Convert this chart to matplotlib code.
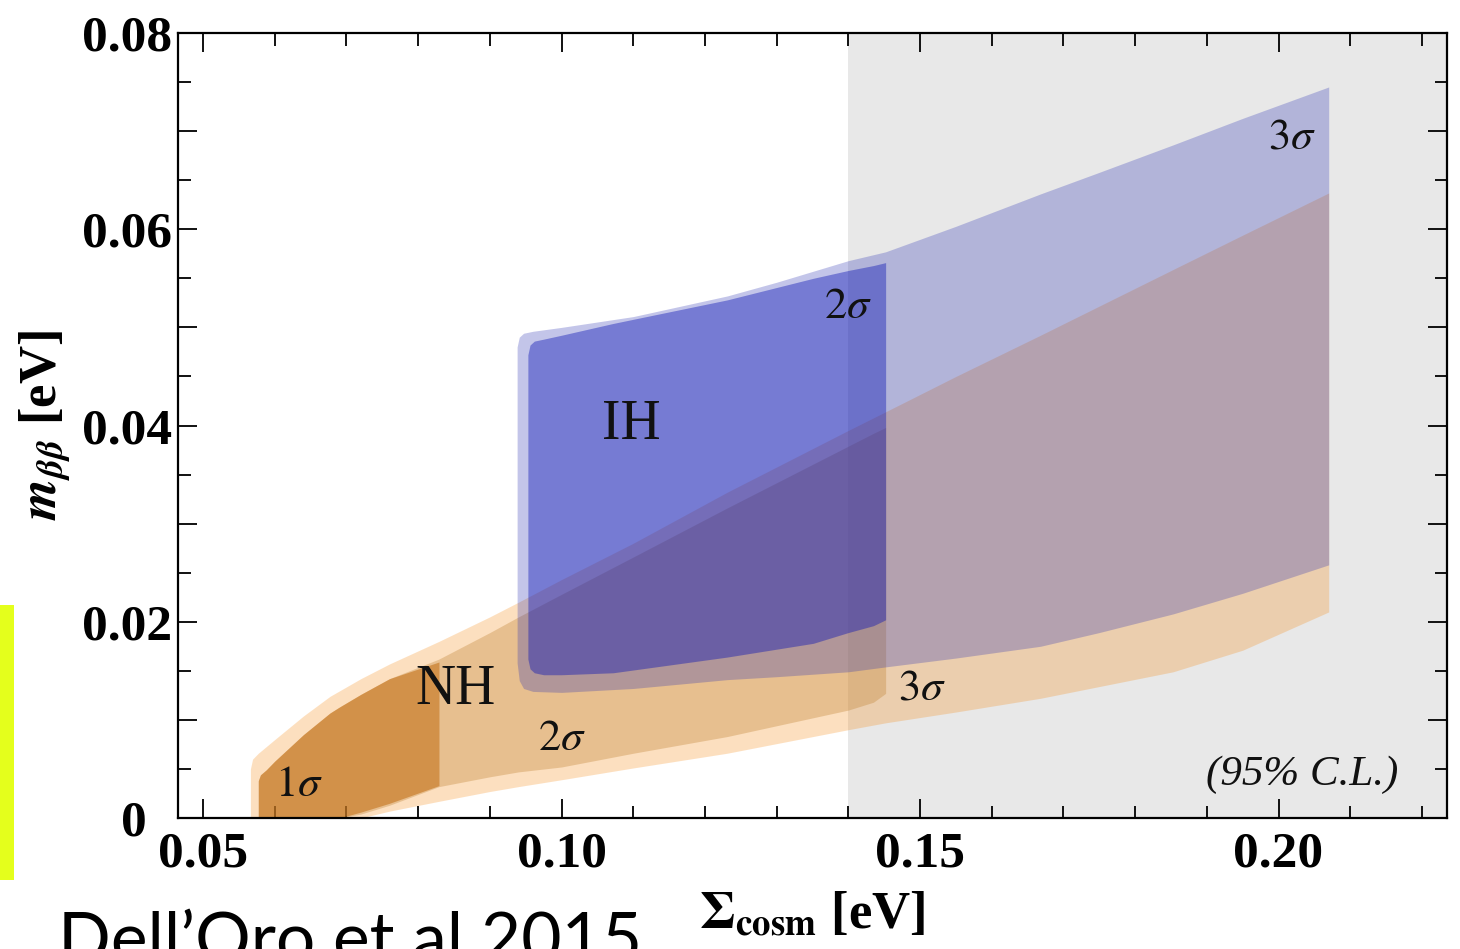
import matplotlib
matplotlib.use("Agg")
import matplotlib.pyplot as plt
from matplotlib.ticker import MultipleLocator, FuncFormatter
from matplotlib.patches import Rectangle

plt.rcParams['mathtext.fontset'] = 'stix'
plt.rcParams['font.family'] = 'Liberation Serif'

# --- allowed regions (Sigma_cosm [eV], m_bb [eV]) ---
# normal hierarchy, 3 sigma
nh3_x = [0.0566, 0.0569, 0.0577, 0.060, 0.064, 0.0677, 0.072, 0.076, 0.0829, 0.090, 0.094,
         0.100, 0.110, 0.1231, 0.140, 0.1452, 0.155, 0.1668, 0.1853, 0.195, 0.207]
nh3_hi = [0.0050, 0.0060, 0.0066, 0.0080, 0.0104, 0.0124, 0.0142, 0.0157, 0.0180, 0.0205, 0.0220,
          0.0243, 0.0280, 0.0332, 0.0395, 0.0414, 0.0450, 0.0492, 0.0559, 0.0594, 0.0637]
nh3_lo = [0, 0, 0, 0, 0, 0, 0, 0.0007, 0.0017, 0.0027, 0.0032,
          0.0039, 0.0051, 0.0066, 0.0090, 0.0097, 0.0108, 0.0122, 0.0149, 0.0171, 0.0210]

# normal hierarchy, 2 sigma
nh2_x = [0.0577, 0.0580, 0.0588, 0.060, 0.064, 0.0677, 0.069, 0.072, 0.076, 0.0829, 0.090,
         0.094, 0.100, 0.110, 0.1231, 0.140, 0.1435, 0.1452]
nh2_hi = [0.0038, 0.0044, 0.0049, 0.0058, 0.0085, 0.0107, 0.0113, 0.0126, 0.0142, 0.0162, 0.0189,
          0.0205, 0.0228, 0.0266, 0.0316, 0.0379, 0.0392, 0.0398]
nh2_lo = [0, 0, 0, 0, 0, 0, 0, 0.0004, 0.0013, 0.0032, 0.0042,
          0.0047, 0.0052, 0.0066, 0.0083, 0.0110, 0.0118, 0.0127]

# normal hierarchy, 1 sigma
nh1_x = [0.0577, 0.0580, 0.0588, 0.060, 0.064, 0.0677, 0.069, 0.072, 0.076, 0.0829]
nh1_hi = [0.0038, 0.0044, 0.0049, 0.0058, 0.0085, 0.0107, 0.0113, 0.0126, 0.0142, 0.0159]
nh1_lo = [0, 0, 0, 0, 0, 0, 0, 0.0006, 0.0015, 0.0033]

# inverted hierarchy, 3 sigma
ih3_x = [0.0938, 0.0941, 0.0947, 0.0960, 0.100, 0.110, 0.1231, 0.130, 0.140, 0.1452,
         0.155, 0.1668, 0.175, 0.1853, 0.195, 0.207]
ih3_hi = [0.0480, 0.0490, 0.0494, 0.0496, 0.0500, 0.0511, 0.0532, 0.0546, 0.0568, 0.0577,
          0.0603, 0.0636, 0.0658, 0.0686, 0.0713, 0.0745]
ih3_lo = [0.0158, 0.0140, 0.0132, 0.0129, 0.0128, 0.0132, 0.0141, 0.0144, 0.0149, 0.0154,
          0.0163, 0.0175, 0.0189, 0.0208, 0.0229, 0.0258]

# inverted hierarchy, 2 sigma
ih2_x = [0.0953, 0.0956, 0.0962, 0.0975, 0.100, 0.1072, 0.1231, 0.1351, 0.140, 0.1435, 0.1452]
ih2_hi = [0.0472, 0.0482, 0.0486, 0.0488, 0.0492, 0.0504, 0.0528, 0.0550, 0.0558, 0.0563, 0.0566]
ih2_lo = [0.0162, 0.0152, 0.0148, 0.0146, 0.0146, 0.0148, 0.0164, 0.0178, 0.0189, 0.0196, 0.0202]

cosmo_limit = 0.14

fig = plt.figure(figsize=(14.6, 9.49), dpi=100)
ax = fig.add_axes([178 / 1460, 131 / 949, 1269 / 1460, 785 / 949])

ax.axvspan(cosmo_limit, 0.3, color='#e8e8e8', lw=0, zorder=0)

orange = (247 / 255, 131 / 255, 3 / 255)
ax.fill_between(nh3_x, nh3_lo, nh3_hi, color=orange, alpha=0.25, lw=0, zorder=1)
ax.fill_between(nh2_x, nh2_lo, nh2_hi, color=(193 / 255, 133 / 255, 55 / 255), alpha=0.35, lw=0, zorder=2)
ax.fill_between(nh1_x, nh1_lo, nh1_hi, color=(197 / 255, 115 / 255, 27 / 255), alpha=0.6, lw=0, zorder=3)
ax.fill_between(ih3_x, ih3_lo, ih3_hi, color=(40 / 255, 47 / 255, 179 / 255), alpha=0.28, lw=0, zorder=4)
ax.fill_between(ih2_x, ih2_lo, ih2_hi, color=(12 / 255, 21 / 255, 181 / 255), alpha=0.42, lw=0, zorder=5)

tc = '#111111'
ax.text(0.1097, 0.0401, 'IH', fontsize=40, ha='center', va='center', color=tc, zorder=6)
ax.text(0.0852, 0.0130, 'NH', fontsize=40, ha='center', va='center', color=tc, zorder=6)
ax.text(0.0634, 0.0034, r'$1\sigma$', fontsize=32, ha='center', va='center', color=tc, zorder=6)
ax.text(0.1001, 0.0080, r'$2\sigma$', fontsize=32, ha='center', va='center', color=tc, zorder=6)
ax.text(0.1400, 0.0521, r'$2\sigma$', fontsize=32, ha='center', va='center', color=tc, zorder=6)
ax.text(0.1503, 0.0132, r'$3\sigma$', fontsize=32, ha='center', va='center', color=tc, zorder=6)
ax.text(0.2019, 0.0693, r'$3\sigma$', fontsize=32, ha='center', va='center', color=tc, zorder=6)
ax.text(0.2033, 0.0044, '(95% C.L.)', fontsize=31, style='italic', ha='center', va='center',
        color=tc, zorder=6)

ax.set_xlim(0.0465, 0.2235)
ax.set_ylim(0, 0.08)

ax.xaxis.set_major_locator(MultipleLocator(0.05))
ax.xaxis.set_minor_locator(MultipleLocator(0.01))
ax.yaxis.set_major_locator(MultipleLocator(0.01))
ax.yaxis.set_minor_locator(MultipleLocator(0.005))
ax.xaxis.set_major_formatter(FuncFormatter(lambda v, p: '%.2f' % v))


def yfmt(v, p):
    k = int(round(v / 0.01))
    if k % 2:
        return ''
    if k == 0:
        return '0  '  # pushed left, clear of the 0.05 label
    return '%.2f' % v


ax.yaxis.set_major_formatter(FuncFormatter(yfmt))

ax.tick_params(which='both', direction='in', top=True, right=True, width=1.4, color='#111111')
ax.tick_params(which='major', length=14, labelsize=37, pad=10)
ax.tick_params(axis='y', which='major', pad=4)
ax.tick_params(which='minor', length=9)
for lab in ax.get_xticklabels() + ax.get_yticklabels():
    lab.set_fontweight('bold')
for s in ax.spines.values():
    s.set_linewidth(1.6)
    s.set_zorder(10)

ax.set_xlabel(r'$\mathbf{\Sigma}_{\mathbf{cosm}}$ [eV]', fontsize=38, fontweight='bold', va='center')
ax.xaxis.set_label_coords(0.5, -0.124)
ax.set_ylabel(r'$\mathbfit{m}_{\mathbfit{\beta\beta}}$ [eV]', fontsize=38, fontweight='bold', va='center')
ax.yaxis.set_label_coords((45 - 178) / 1269, 0.5)

# highlight bar and citation
fig.patches.append(Rectangle((0, 69 / 949), 14 / 1460, 275 / 949, transform=fig.transFigure,
                             facecolor='#e4ff1c', edgecolor='none'))
fig.text(58 / 1460, -0.014, 'Dell\u2019Oro et al 2015', fontsize=50, family='Lato',
         ha='left', va='baseline', color='black')

fig.savefig('out.png', dpi=100)
